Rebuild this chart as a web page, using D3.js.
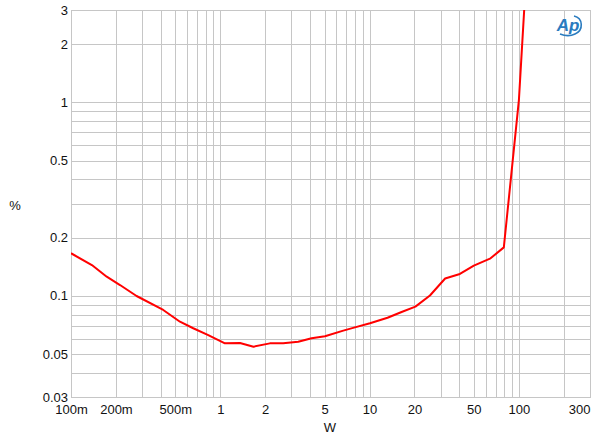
<!DOCTYPE html>
<html>
<head>
<meta charset="utf-8">
<script src="https://cdn.jsdelivr.net/npm/d3@7"></script>
<style>
  html, body { margin: 0; padding: 0; background: #fff; }
  svg { display: block; font-family: "Liberation Sans", Arial, sans-serif; }
</style>
</head>
<body>
<svg id="chart" width="600" height="442"></svg>
<script>
// Data
const watts = [0.1, 0.138, 0.1735, 0.213, 0.275, 0.415, 0.537, 0.659, 0.831, 1.075, 1.355, 1.67, 2.15, 2.64, 3.33, 4.09, 5.03, 6.67, 7.98, 10.07, 13.2, 16.4, 20.3, 25.4, 32.1, 40.3, 50.0, 64.7, 79.4, 100.2, 108.7];
const thdPercent = [0.166, 0.1443, 0.1256, 0.1137, 0.0998, 0.0845, 0.0735, 0.068, 0.0627, 0.0568, 0.057, 0.0546, 0.0568, 0.0568, 0.0579, 0.0603, 0.0618, 0.0661, 0.0687, 0.0721, 0.077, 0.0825, 0.0879, 0.1004, 0.1229, 0.1297, 0.1432, 0.1563, 0.178, 1.03, 3.0];

const xTickValues = [0.1, 0.2, 0.5, 1, 2, 5, 10, 20, 50, 100, 300];
const xTickLabels = ["100m", "200m", "500m", "1", "2", "5", "10", "20", "50", "100", "300"];
const yTickValues = [0.03, 0.05, 0.1, 0.2, 0.5, 1, 2, 3];
const yTickLabels = ["0.03", "0.05", "0.1", "0.2", "0.5", "1", "2", "3"];

const xTitle = "W";
const yTitle = "%";

(function () {
const svg = d3.select("#chart");
const pLeft = 71, pRight = 590, pTop = 10, pBottom = 397;

const x = d3.scaleLog().domain([0.1, 300]).range([pLeft, pRight]);
const y = d3.scaleLog().domain([0.03, 3]).range([pBottom, pTop]);

const gridColor = "#c6c6c6";
const snap = v => Math.round(v) + 0.5;

// Grid
const grid = svg.append("g");
grid.selectAll("line.vx").data(x.ticks()).join("line")
  .attr("x1", d => snap(x(d))).attr("x2", d => snap(x(d)))
  .attr("y1", pTop).attr("y2", pBottom)
  .attr("stroke", gridColor).attr("stroke-width", 1);
grid.selectAll("line.hy").data(y.ticks()).join("line")
  .attr("y1", d => snap(y(d))).attr("y2", d => snap(y(d)))
  .attr("x1", pLeft).attr("x2", pRight)
  .attr("stroke", gridColor).attr("stroke-width", 1);
grid.append("rect")
  .attr("x", snap(pLeft)).attr("y", snap(pTop))
  .attr("width", Math.round(pRight) - Math.round(pLeft)).attr("height", Math.round(pBottom) - Math.round(pTop))
  .attr("fill", "none").attr("stroke", gridColor);

// Axes
const xAxis = d3.axisBottom(x).tickValues(xTickValues)
  .tickFormat((d, i) => xTickLabels[i]).tickSize(0).tickPadding(8);
const gx = svg.append("g").attr("transform", `translate(0,${pBottom})`).call(xAxis);
gx.select(".domain").remove();
gx.selectAll("text").attr("font-size", 13).attr("fill", "#111").attr("font-family", "Liberation Sans, Arial, sans-serif");
gx.selectAll(".tick").filter(d => d === 300).select("text").attr("text-anchor", "end");

const yAxis = d3.axisLeft(y).tickValues(yTickValues)
  .tickFormat((d, i) => yTickLabels[i]).tickSize(0).tickPadding(3);
const gy = svg.append("g").attr("transform", `translate(${pLeft},0)`).call(yAxis);
gy.select(".domain").remove();
gy.selectAll("text").attr("font-size", 13).attr("fill", "#111").attr("font-family", "Liberation Sans, Arial, sans-serif");

// Titles
svg.append("text").attr("x", 330).attr("y", 432).attr("text-anchor", "middle")
  .attr("font-size", 13).attr("fill", "#111").text(xTitle);
svg.append("text").attr("x", 15).attr("y", 210).attr("text-anchor", "middle")
  .attr("font-size", 13).attr("fill", "#111").text(yTitle);

// Curve
svg.append("clipPath").attr("id", "plotclip").append("rect")
  .attr("x", pLeft).attr("y", pTop).attr("width", pRight - pLeft).attr("height", pBottom - pTop);
const line = d3.line().x((d, i) => x(watts[i])).y(d => y(d));
svg.append("path").datum(thdPercent)
  .attr("clip-path", "url(#plotclip)")
  .attr("d", line).attr("fill", "none")
  .attr("stroke", "#ff0000").attr("stroke-width", 2).attr("stroke-linejoin", "round");

// Logo
const logo = svg.append("g").attr("transform", "translate(569,25)");
logo.append("text").attr("x", -1).attr("y", 6).attr("text-anchor", "middle")
  .attr("font-size", 17).attr("font-style", "italic").attr("font-weight", "bold")
  .attr("fill", "#2a7bbf").attr("font-family", "Liberation Sans, Arial, sans-serif").text("Ap");
logo.append("path")
  .attr("d", "M5,-9 C14,-7 15,5 6,9 C2,11 -4,11 -9,9")
  .attr("fill", "none").attr("stroke", "#2a7bbf").attr("stroke-width", 1.6);
})();
</script>
</body>
</html>
